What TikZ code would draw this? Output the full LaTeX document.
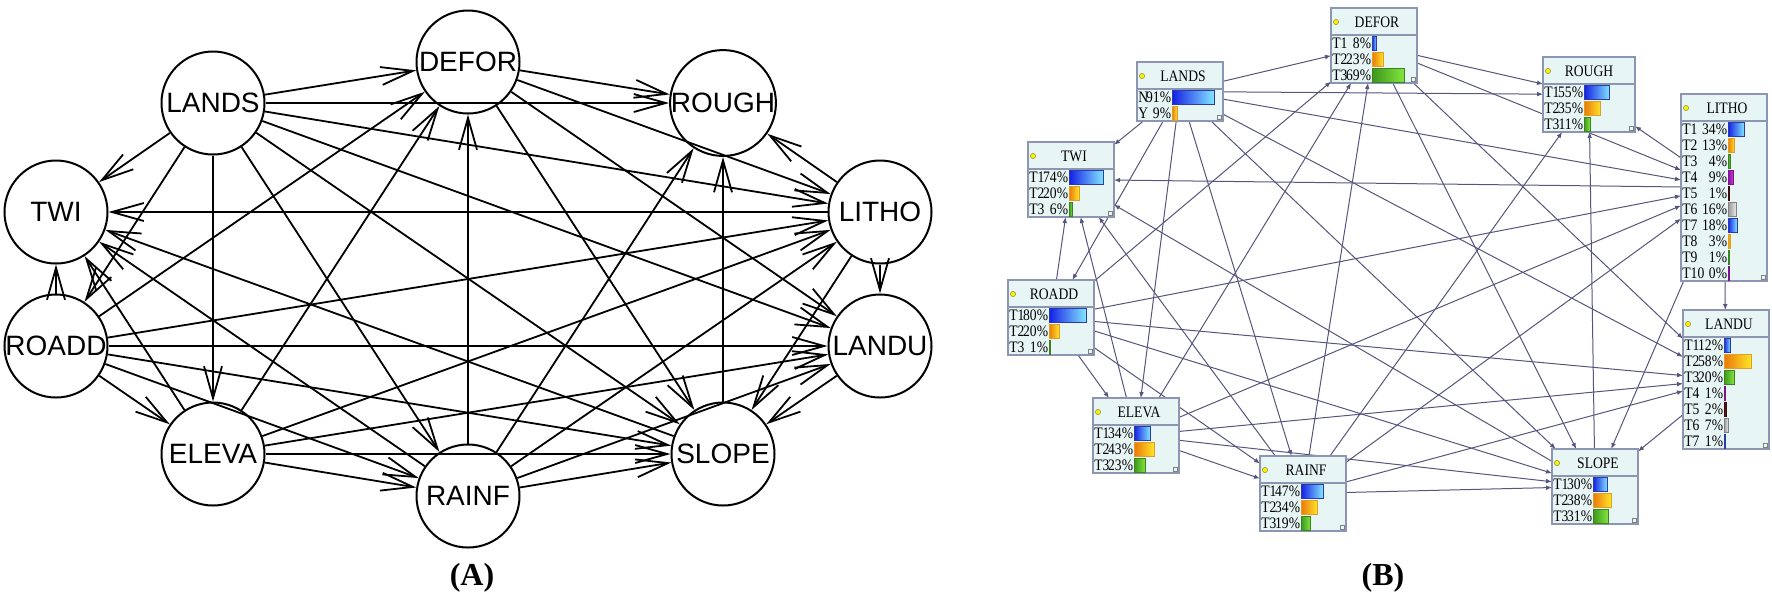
\documentclass[tikz,border=0pt]{standalone}
\usepackage{fontspec}
\setmainfont{Liberation Serif}
\newfontfamily\circfont{Liberation Sans}
\newfontfamily\netfont{Liberation Serif}[FakeStretch=0.85]
\usetikzlibrary{positioning,arrows.meta,calc}

\definecolor{linkcol}{RGB}{85,85,125}
\definecolor{boxfill}{RGB}{232,245,245}
\definecolor{boxline}{RGB}{140,150,178}

\begin{document}
\begin{tikzpicture}[
    x=0.5pt, y=-0.5pt,
    var/.style={circle, draw, line width=1pt, minimum size=51.5pt, inner sep=0pt, font=\circfont\fontsize{14}{14}\selectfont},
    dep/.style={line width=0.9pt, -{Straight Barb[length=16pt,width=9pt]}},
    link/.style={line width=0.5pt, draw=linkcol, -{Latex[length=3pt,width=2.4pt]}},
    netframe/.style={rectangle, anchor=north west, inner sep=0pt, outer sep=0pt},
    nettitle/.style={font=\netfont\fontsize{8}{8}\selectfont, inner sep=0pt},
    statetext/.style={font=\netfont\fontsize{8}{8}\selectfont, inner sep=0pt},
    bblue/.style={left color={rgb,255:red,20;green,30;blue,230}, right color={rgb,255:red,130;green,230;blue,255}, draw={rgb,255:red,40;green,60;blue,170}, line width=0.4pt},
    borange/.style={left color={rgb,255:red,235;green,120;blue,10}, right color={rgb,255:red,255;green,230;blue,40}, draw={rgb,255:red,220;green,160;blue,40}, line width=0.4pt},
    bgreen/.style={left color={rgb,255:red,60;green,150;blue,30}, right color={rgb,255:red,130;green,230;blue,60}, draw={rgb,255:red,60;green,130;blue,30}, line width=0.4pt},
    bpurple/.style={left color={rgb,255:red,140;green,10;blue,160}, right color={rgb,255:red,200;green,60;blue,220}, draw={rgb,255:red,120;green,20;blue,140}, line width=0.4pt},
    bdark/.style={left color={rgb,255:red,60;green,10;blue,10}, right color={rgb,255:red,110;green,30;blue,30}, draw={rgb,255:red,60;green,10;blue,10}, line width=0.4pt},
    bgray/.style={left color={rgb,255:red,150;green,150;blue,150}, right color={rgb,255:red,235;green,235;blue,235}, draw={rgb,255:red,130;green,130;blue,130}, line width=0.4pt}
]
\useasboundingbox (0,0) rectangle (1772,602);

% ===== (A) learned structure =====
\node[var] (aLANDS) at (213,103) {LANDS};
\node[var] (aDEFOR) at (468,62)  {DEFOR};
\node[var] (aROUGH) at (723,103) {ROUGH};
\node[var] (aLITHO) at (880,212) {LITHO};
\node[var] (aLANDU) at (880,346) {LANDU};
\node[var] (aSLOPE) at (723,454) {SLOPE};
\node[var] (aRAINF) at (468,496) {RAINF};
\node[var] (aELEVA) at (213,454) {ELEVA};
\node[var] (aROADD) at (56,346)  {ROADD};
\node[var] (aTWI)   at (56,212)  {TWI};

% LANDS -> all
\draw[dep] (aLANDS) -- (aDEFOR);
\draw[dep] (aLANDS) -- (aROUGH);
\draw[dep] (aLANDS) -- (aLITHO);
\draw[dep] (aLANDS) -- (aLANDU);
\draw[dep] (aLANDS) -- (aSLOPE);
\draw[dep] (aLANDS) -- (aRAINF);
\draw[dep] (aLANDS) -- (aELEVA);
\draw[dep] (aLANDS) -- (aROADD);
\draw[dep] (aLANDS) -- (aTWI);
% ROADD
\draw[dep] (aROADD) -- (aDEFOR);
\draw[dep] (aROADD) -- (aTWI);
\draw[dep] (aROADD) -- (aLITHO);
\draw[dep] (aROADD) -- (aLANDU);
\draw[dep] (aROADD) -- (aSLOPE);
\draw[dep] (aROADD) -- (aRAINF);
\draw[dep] (aROADD) -- (aELEVA);
% ELEVA
\draw[dep] (aELEVA) -- (aDEFOR);
\draw[dep] (aELEVA) -- (aTWI);
\draw[dep] (aELEVA) -- (aLITHO);
\draw[dep] (aELEVA) -- (aLANDU);
\draw[dep] (aELEVA) -- (aSLOPE);
\draw[dep] (aELEVA) -- (aRAINF);
% RAINF
\draw[dep] (aRAINF) -- (aDEFOR);
\draw[dep] (aRAINF) -- (aROUGH);
\draw[dep] (aRAINF) -- (aTWI);
\draw[dep] (aRAINF) -- (aLITHO);
\draw[dep] (aRAINF) -- (aLANDU);
\draw[dep] (aRAINF) -- (aSLOPE);
% DEFOR
\draw[dep] (aDEFOR) -- (aROUGH);
\draw[dep] (aDEFOR) -- (aLITHO);
\draw[dep] (aDEFOR) -- (aLANDU);
\draw[dep] (aDEFOR) -- (aSLOPE);
% LITHO
\draw[dep] (aLITHO) -- (aTWI);
\draw[dep] (aLITHO) -- (aROUGH);
\draw[dep] (aLITHO) -- (aLANDU);
\draw[dep] (aLITHO) -- (aSLOPE);
% LANDU, SLOPE
\draw[dep] (aLANDU) -- (aSLOPE);
\draw[dep] (aSLOPE) -- (aTWI);
\draw[dep] (aSLOPE) -- (aROUGH);

\node[font=\bfseries\fontsize{16}{16}\selectfont] (labA) at (472,578) {(A)};

% ===== (B) network with beliefs =====
% box outlines: name, left, top, width, rows
\def\netframe#1#2#3#4#5{\node[netframe, minimum width={#4*0.5pt}, minimum height={(27+16*#5)*0.5pt}] (#1) at (#2,#3) {};}
\netframe{bLANDS}{1137}{62}{86}{2}
\netframe{bTWI}{1028}{142}{86}{3}
\netframe{bROADD}{1008}{280}{86}{3}
\netframe{bELEVA}{1093}{398}{86}{3}
\netframe{bRAINF}{1260}{456}{86}{3}
\netframe{bDEFOR}{1331}{8}{86}{3}
\netframe{bROUGH}{1543}{57}{92}{3}
\netframe{bLITHO}{1681}{94}{86}{10}
\netframe{bLANDU}{1683}{310}{86}{7}
\netframe{bSLOPE}{1552}{449}{86}{3}

% links (drawn under the boxes)
\draw[link] (bLANDS) -- (bDEFOR);
\draw[link] (bLANDS) -- (bROUGH);
\draw[link] (bLANDS) -- (bLITHO);
\draw[link] (bLANDS) -- (bLANDU);
\draw[link] (bLANDS) -- (bSLOPE);
\draw[link] (bLANDS) -- (bRAINF);
\draw[link] (bLANDS) -- (bELEVA);
\draw[link] (bLANDS) -- (bROADD);
\draw[link] (bLANDS) -- (bTWI);
\draw[link] (bROADD) -- (bDEFOR);
\draw[link] (bROADD) -- (bTWI);
\draw[link] (bROADD) -- (bLITHO);
\draw[link] (bROADD) -- (bLANDU);
\draw[link] (bROADD) -- (bSLOPE);
\draw[link] (bROADD) -- (bRAINF);
\draw[link] (bROADD) -- (bELEVA);
\draw[link] (bELEVA) -- (bDEFOR);
\draw[link] (bELEVA) -- (bTWI);
\draw[link] (bELEVA) -- (bLITHO);
\draw[link] (bELEVA) -- (bLANDU);
\draw[link] (bELEVA) -- (bSLOPE);
\draw[link] (bELEVA) -- (bRAINF);
\draw[link] (bRAINF) -- (bDEFOR);
\draw[link] (bRAINF) -- (bROUGH);
\draw[link] (bRAINF) -- (bTWI);
\draw[link] (bRAINF) -- (bLITHO);
\draw[link] (bRAINF) -- (bLANDU);
\draw[link] (bRAINF) -- (bSLOPE);
\draw[link] (bDEFOR) -- (bROUGH);
\draw[link] (bDEFOR) -- (bLITHO);
\draw[link] (bDEFOR) -- (bLANDU);
\draw[link] (bDEFOR) -- (bSLOPE);
\draw[link] (bLITHO) -- (bTWI);
\draw[link] (bLITHO) -- (bROUGH);
\draw[link] (bLITHO) -- (bLANDU);
\draw[link] (bLITHO) -- (bSLOPE);
\draw[link] (bLANDU) -- (bSLOPE);
\draw[link] (bSLOPE) -- (bTWI);
\draw[link] (bSLOPE) -- (bROUGH);

% box body: name, title
\def\netbox#1#2{%
  \filldraw[fill=boxfill, draw=boxline, line width=0.6pt] (#1.north west) rectangle (#1.south east);
  \draw[boxline, line width=0.6pt] ($(#1.north west)+(0,27)$) -- ($(#1.north east)+(0,27)$);
  \filldraw[fill=yellow, draw={rgb,255:red,150;green,150;blue,60}, line width=0.3pt] ($(#1.north west)+(5,14)$) circle[radius=1.3pt];
  \node[nettitle] at ($(#1.north west)+(46,14)$) {#2};
  \draw[gray, line width=0.3pt] ($(#1.south east)+(-6,-6)$) rectangle ++(4,4);
}
% state row: box, row, state, percent, bar style (bar starts at \barx)
\def\staterow#1#2#3#4#5{%
  \node[statetext, anchor=west] at ($(#1.north west)+(1,{19+16*#2})$) {#3};
  \node[statetext, anchor=east] at ($(#1.north west)+(\barx-0.5,{19+16*#2})$) {#4\%};
  \shadedraw[#5] ($(#1.north west)+(\barx,{12+16*#2})$) rectangle ++({0.45*#4+1},14);
}

\def\barx{35}
\netbox{bLANDS}{LANDS}
\staterow{bLANDS}{1}{N}{91}{bblue}
\staterow{bLANDS}{2}{Y}{9}{borange}

\def\barx{41}
\netbox{bTWI}{TWI}
\staterow{bTWI}{1}{T1}{74}{bblue}
\staterow{bTWI}{2}{T2}{20}{borange}
\staterow{bTWI}{3}{T3}{6}{bgreen}

\netbox{bROADD}{ROADD}
\staterow{bROADD}{1}{T1}{80}{bblue}
\staterow{bROADD}{2}{T2}{20}{borange}
\staterow{bROADD}{3}{T3}{1}{bgreen}

\netbox{bELEVA}{ELEVA}
\staterow{bELEVA}{1}{T1}{34}{bblue}
\staterow{bELEVA}{2}{T2}{43}{borange}
\staterow{bELEVA}{3}{T3}{23}{bgreen}

\netbox{bRAINF}{RAINF}
\staterow{bRAINF}{1}{T1}{47}{bblue}
\staterow{bRAINF}{2}{T2}{34}{borange}
\staterow{bRAINF}{3}{T3}{19}{bgreen}

\netbox{bDEFOR}{DEFOR}
\staterow{bDEFOR}{1}{T1}{8}{bblue}
\staterow{bDEFOR}{2}{T2}{23}{borange}
\staterow{bDEFOR}{3}{T3}{69}{bgreen}

\netbox{bROUGH}{ROUGH}
\staterow{bROUGH}{1}{T1}{55}{bblue}
\staterow{bROUGH}{2}{T2}{35}{borange}
\staterow{bROUGH}{3}{T3}{11}{bgreen}

\netbox{bSLOPE}{SLOPE}
\staterow{bSLOPE}{1}{T1}{30}{bblue}
\staterow{bSLOPE}{2}{T2}{38}{borange}
\staterow{bSLOPE}{3}{T3}{31}{bgreen}

\netbox{bLANDU}{LANDU}
\staterow{bLANDU}{1}{T1}{12}{bblue}
\staterow{bLANDU}{2}{T2}{58}{borange}
\staterow{bLANDU}{3}{T3}{20}{bgreen}
\staterow{bLANDU}{4}{T4}{1}{bpurple}
\staterow{bLANDU}{5}{T5}{2}{bdark}
\staterow{bLANDU}{6}{T6}{7}{bgray}
\staterow{bLANDU}{7}{T7}{1}{bblue}

\def\barx{47}
\netbox{bLITHO}{LITHO}
\staterow{bLITHO}{1}{T1}{34}{bblue}
\staterow{bLITHO}{2}{T2}{13}{borange}
\staterow{bLITHO}{3}{T3}{4}{bgreen}
\staterow{bLITHO}{4}{T4}{9}{bpurple}
\staterow{bLITHO}{5}{T5}{1}{bdark}
\staterow{bLITHO}{6}{T6}{16}{bgray}
\staterow{bLITHO}{7}{T7}{18}{bblue}
\staterow{bLITHO}{8}{T8}{3}{borange}
\staterow{bLITHO}{9}{T9}{1}{bgreen}
\staterow{bLITHO}{10}{T10}{0}{bpurple}

\node[font=\bfseries\fontsize{16}{16}\selectfont] (labB) at (1383,578) {(B)};
\end{tikzpicture}
\end{document}
